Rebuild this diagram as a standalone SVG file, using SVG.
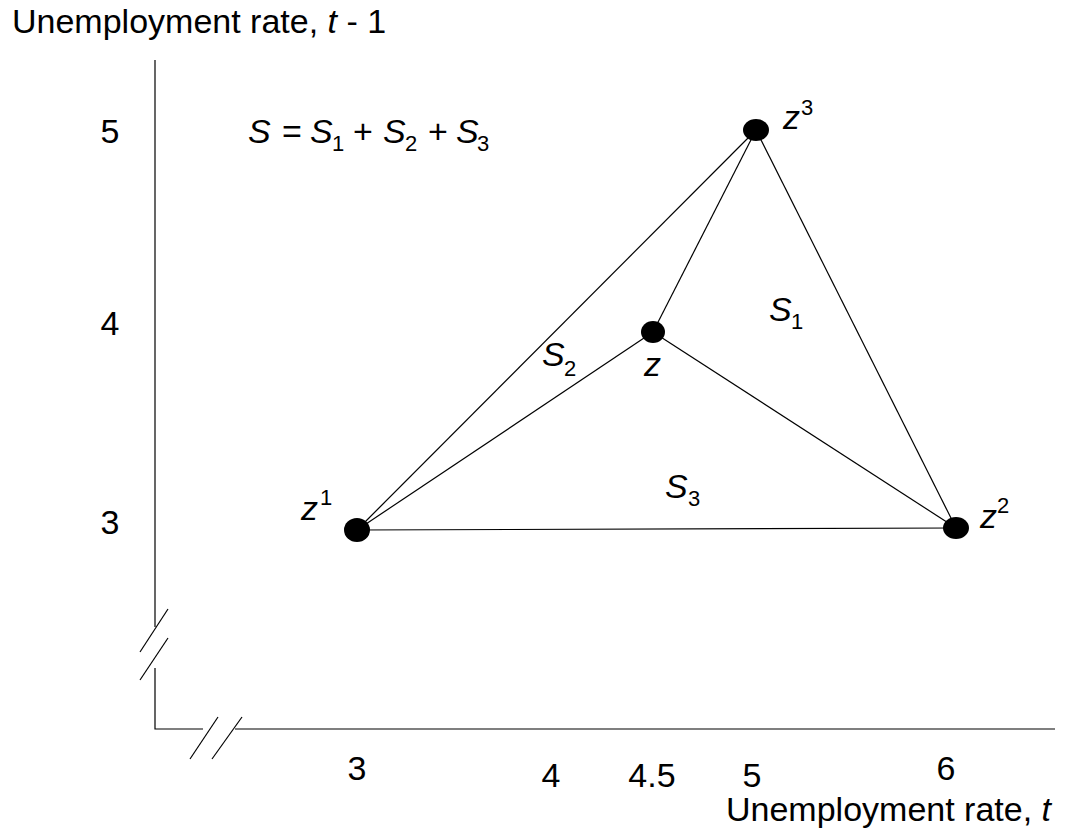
<svg xmlns="http://www.w3.org/2000/svg" width="1076" height="830" viewBox="0 0 1076 830">
<style>
text{font-family:"Liberation Sans",Arial,sans-serif;font-size:34px;fill:#000}
.i{font-style:italic}
.s{font-size:22px}
.ax{stroke:#000;stroke-width:1.2;fill:none}
.ln{stroke:#000;stroke-width:1.2;fill:none}
.pt{fill:#000}
</style>
<rect width="1076" height="830" fill="#fff"/>
<g id="axes">
<line class="ax" x1="155" y1="60" x2="155" y2="627"/>
<line class="ax" x1="168" y1="609" x2="140" y2="652"/>
<line class="ax" x1="168" y1="638" x2="140" y2="680"/>
<polyline class="ax" points="155,668 155,729 203,729"/>
<line class="ax" x1="218" y1="717" x2="190" y2="759"/>
<line class="ax" x1="242" y1="717" x2="212" y2="759"/>
<line class="ax" x1="235" y1="729" x2="1055" y2="729"/>
</g>
<g id="axis-labels">
<text x="12" y="33">Unemployment rate, <tspan class="i">t</tspan> - 1</text>
<text x="726" y="821">Unemployment rate, <tspan class="i">t</tspan></text>
<text x="110" y="143" text-anchor="middle">5</text>
<text x="110" y="335" text-anchor="middle">4</text>
<text x="110" y="534" text-anchor="middle">3</text>
<text x="357" y="780" text-anchor="middle">3</text>
<text x="551" y="787" text-anchor="middle">4</text>
<text x="652" y="787" text-anchor="middle">4.5</text>
<text x="752" y="787" text-anchor="middle">5</text>
<text x="946" y="780" text-anchor="middle">6</text>
</g>
<g id="formula">
<text><tspan class="i" x="248" y="143">S</tspan><tspan x="282" y="143">=</tspan><tspan class="i" x="310" y="143">S</tspan><tspan class="s" x="332" y="151">1</tspan><tspan x="353" y="143">+</tspan><tspan class="i" x="383" y="143">S</tspan><tspan class="s" x="405" y="151">2</tspan><tspan x="428" y="143">+</tspan><tspan class="i" x="456" y="143">S</tspan><tspan class="s" x="477" y="151">3</tspan></text>
</g>
<g id="connectors">
<line class="ln" x1="357" y1="530" x2="756" y2="130"/>
<line class="ln" x1="357" y1="530" x2="653" y2="332"/>
<line class="ln" x1="357" y1="530" x2="956" y2="528"/>
<line class="ln" x1="653" y1="332" x2="756" y2="130"/>
<line class="ln" x1="653" y1="332" x2="956" y2="528"/>
<line class="ln" x1="756" y1="130" x2="956" y2="528"/>
</g>
<g id="z1">
<ellipse class="pt" cx="357" cy="530" rx="13" ry="12"/>
<text><tspan class="i" x="301" y="520">z</tspan><tspan class="s" x="320" y="505">1</tspan></text>
</g>
<g id="z2">
<ellipse class="pt" cx="956" cy="528" rx="13" ry="11"/>
<text><tspan class="i" x="980" y="528">z</tspan><tspan class="s" x="997" y="513">2</tspan></text>
</g>
<g id="z3">
<ellipse class="pt" cx="756" cy="130" rx="13" ry="11"/>
<text><tspan class="i" x="783" y="129">z</tspan><tspan class="s" x="801" y="115">3</tspan></text>
</g>
<g id="z">
<ellipse class="pt" cx="653" cy="332" rx="12" ry="11"/>
<text class="i" x="644" y="376">z</text>
</g>
<g id="regions">
<text><tspan class="i" x="542" y="366">S</tspan><tspan class="s" x="564" y="376">2</tspan></text>
<text><tspan class="i" x="769" y="321">S</tspan><tspan class="s" x="791" y="329">1</tspan></text>
<text><tspan class="i" x="665" y="498">S</tspan><tspan class="s" x="688" y="506">3</tspan></text>
</g>
</svg>
